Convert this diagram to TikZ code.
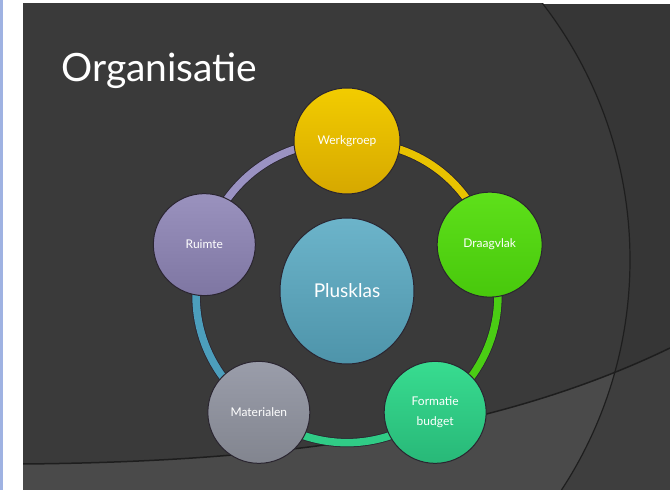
\documentclass[tikz,border=0pt]{standalone}
\usepackage{fontspec}
\setmainfont{Lato}
\usetikzlibrary{shapes.geometric, positioning}

\definecolor{stripblue}{HTML}{9FB2E2}
\definecolor{slidebg}{HTML}{3A3A3A}
\definecolor{outerbg}{HTML}{363636}
\definecolor{lowdark}{HTML}{3E3E3E}
\definecolor{lowlight}{HTML}{4A4A4A}
\definecolor{rimline}{HTML}{1E1E1E}
\definecolor{rimdark}{HTML}{2A2530}
\definecolor{yellowtop}{HTML}{F2CC00}
\definecolor{yellowbot}{HTML}{D6A800}
\definecolor{greentop}{HTML}{5EE01A}
\definecolor{greenbot}{HTML}{48C80C}
\definecolor{tealtop}{HTML}{38DC90}
\definecolor{tealbot}{HTML}{28B878}
\definecolor{graytop}{HTML}{9A9DAA}
\definecolor{graybot}{HTML}{82858F}
\definecolor{lavtop}{HTML}{9A92BE}
\definecolor{lavbot}{HTML}{7E76A2}
\definecolor{hubtop}{HTML}{6CB4CA}
\definecolor{hubbot}{HTML}{4E94AA}
\definecolor{arcyellow}{HTML}{E8C200}
\definecolor{arcgreen}{HTML}{4ACD14}
\definecolor{arcteal}{HTML}{30CC86}
\definecolor{arcblue}{HTML}{4C9EBC}
\definecolor{arclav}{HTML}{9A92C2}

\pgfdeclarelayer{back}
\pgfdeclarelayer{ring}
\pgfsetlayers{back,ring,main}

\begin{document}
\begin{tikzpicture}[x=1pt, y=1pt, auto, thick]

  % Define styles
  \tikzstyle{unit} = [circle, minimum size=102pt, inner sep=0pt, draw=rimdark, line width=1pt, text=white, font=\fontsize{12}{20}\selectfont, align=center]
  \tikzstyle{hubnode} = [ellipse, minimum width=134pt, minimum height=146pt, inner sep=0pt, draw=rimdark, line width=1pt, text=white, font=\fontsize{19}{22}\selectfont, top color=hubtop, bottom color=hubbot]
  \tikzstyle{link} = [line width=0.8pt, draw=rimdark, double distance=7.5pt, bend left=36]

  % Slide background
  \begin{pgfonlayer}{back}
    \fill [white] (0,0) rectangle (670,490);
    \fill [stripblue] (0,0) rectangle (2.5,490);
    \begin{scope}
      \clip (23,0) rectangle (670,486);
      \fill [outerbg] (23,0) rectangle (670,486);
      \fill [slidebg] (210,230) circle (420);
      \begin{scope}
        \clip (23,26) .. controls (250,28) and (480,50) .. (670,142) -- (670,0) -- (23,0) -- cycle;
        \fill [lowdark] (23,0) rectangle (670,490);
        \fill [lowlight] (210,230) circle (420);
      \end{scope}
      \draw [rimline, line width=1.2pt] (210,230) circle (420);
      \draw [rimline, line width=1.5pt] (23,26) .. controls (250,28) and (480,50) .. (670,142);
    \end{scope}
  \end{pgfonlayer}

  % Place nodes
  \node [anchor=base west, text=white, font=\fontsize{39}{40}\selectfont] (title) at (58,408) {Organisatie};
  \node [hubnode] (plusklas) at (347,199) {Plusklas};
  \node [unit, minimum size=106pt, top color=yellowtop, bottom color=yellowbot] (werkgroep) at ([shift={(90:150)}]plusklas.center) {Werkgroep};
  \node [unit, minimum size=105pt, top color=greentop, bottom color=greenbot] (draagvlak) at ([shift={(18:150)}]plusklas.center) {Draagvlak};
  \node [unit, top color=tealtop, bottom color=tealbot] (formatie) at ([shift={(-54:150)}]plusklas.center) {Formatie\\budget};
  \node [unit, top color=graytop, bottom color=graybot] (materialen) at ([shift={(-126:150)}]plusklas.center) {Materialen};
  \node [unit, top color=lavtop, bottom color=lavbot] (ruimte) at ([shift={(162:150)}]plusklas.center) {Ruimte};

  % Draw ring
  \begin{pgfonlayer}{ring}
    \draw [link, double=arcyellow] (werkgroep.center) to (draagvlak.center);
    \draw [link, double=arcgreen] (draagvlak.center) to (formatie.center);
    \draw [link, double=arcteal] (formatie.center) to (materialen.center);
    \draw [link, double=arcblue] (materialen.center) to (ruimte.center);
    \draw [link, double=arclav] (ruimte.center) to (werkgroep.center);
  \end{pgfonlayer}

\end{tikzpicture}
\end{document}
